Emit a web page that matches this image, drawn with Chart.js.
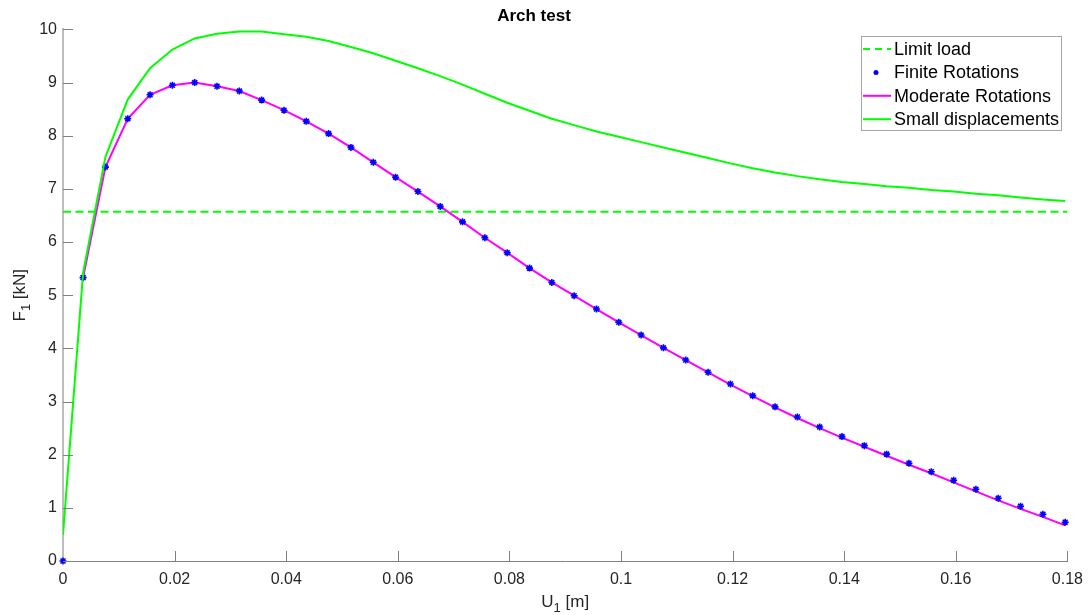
<!DOCTYPE html>
<html>
<head>
<meta charset="utf-8">
<script src="https://cdn.jsdelivr.net/npm/chart.js@4"></script>
<style>
  html, body { margin: 0; padding: 0; background: #fff; }
  #wrap { width: 1092px; height: 615px; }
</style>
</head>
<body>
<div id="wrap"><canvas id="chart" width="1092" height="615"></canvas></div>
<script>
// displacement U1 [m] of each load step
var uValues = [0, 0.0036, 0.0076, 0.0116, 0.0156, 0.0196, 0.0236, 0.0276, 0.0316, 0.0356,
  0.0396, 0.0436, 0.0476, 0.0516, 0.0556, 0.0596, 0.0636, 0.0676, 0.0716, 0.0756,
  0.0796, 0.0836, 0.0876, 0.0916, 0.0956, 0.0996, 0.1036, 0.1076, 0.1116, 0.1156,
  0.1196, 0.1236, 0.1276, 0.1316, 0.1356, 0.1396, 0.1436, 0.1476, 0.1516, 0.1556,
  0.1596, 0.1636, 0.1676, 0.1716, 0.1756, 0.1796];

var finiteRot = [0, 5.33, 7.41, 8.32, 8.77, 8.95, 9.00, 8.93, 8.84, 8.67,
  8.48, 8.27, 8.04, 7.78, 7.50, 7.22, 6.95, 6.67, 6.38, 6.08,
  5.80, 5.51, 5.24, 4.99, 4.74, 4.49, 4.25, 4.01, 3.78, 3.55,
  3.33, 3.11, 2.90, 2.71, 2.52, 2.34, 2.17, 2.01, 1.84, 1.68,
  1.52, 1.35, 1.18, 1.03, 0.88, 0.73];

var moderateRot = [null, 5.33, 7.41, 8.32, 8.77, 8.95, 9.00, 8.93, 8.84, 8.67,
  8.48, 8.27, 8.04, 7.78, 7.50, 7.22, 6.95, 6.67, 6.38, 6.08,
  5.80, 5.51, 5.24, 4.99, 4.74, 4.49, 4.25, 4.01, 3.78, 3.55,
  3.32, 3.10, 2.89, 2.69, 2.50, 2.32, 2.15, 1.98, 1.81, 1.65,
  1.48, 1.31, 1.14, 0.98, 0.83, 0.67];

var smallDisp = [0.49, 5.42, 7.60, 8.68, 9.27, 9.62, 9.83, 9.92, 9.96, 9.96,
  9.91, 9.86, 9.78, 9.67, 9.55, 9.41, 9.27, 9.12, 8.96, 8.79,
  8.62, 8.47, 8.32, 8.20, 8.08, 7.98, 7.88, 7.78, 7.68, 7.58,
  7.48, 7.39, 7.31, 7.24, 7.18, 7.13, 7.09, 7.05, 7.02, 6.98,
  6.95, 6.91, 6.88, 6.84, 6.80, 6.77];

var limitX = [0, 0.18];
var limitLoad = [6.57, 6.57];

var xTicks = [0, 0.02, 0.04, 0.06, 0.08, 0.1, 0.12, 0.14, 0.16, 0.18];
var yTicks = [0, 1, 2, 3, 4, 5, 6, 7, 8, 9, 10];

var FONT = '"Liberation Sans", Arial, Helvetica, sans-serif';
var GREEN = '#00ff00';
var MAGENTA = '#ff00ff';
var BLUE = '#0000ff';

function toPoints(xs, ys) {
  var pts = [];
  for (var i = 0; i < xs.length; i++) {
    if (ys[i] !== null) pts.push({ x: xs[i], y: ys[i] });
  }
  return pts;
}

// inward tick marks, axis titles with subscripts, boxed legend
var matlabLook = {
  id: 'matlabLook',
  afterDraw: function (chart) {
    var ctx = chart.ctx;
    var xs = chart.scales.x, ys = chart.scales.y;
    var area = chart.chartArea;
    ctx.save();

    ctx.strokeStyle = '#808080';
    ctx.lineWidth = 1;
    ctx.beginPath();
    xTicks.forEach(function (v) {
      if (v === 0) return;
      var px = Math.round(xs.getPixelForValue(v)) + 0.5;
      ctx.moveTo(px, area.bottom);
      ctx.lineTo(px, area.bottom - 10);
    });
    yTicks.forEach(function (v) {
      var py = Math.round(ys.getPixelForValue(v)) + 0.5;
      ctx.moveTo(area.left, py);
      ctx.lineTo(area.left + 10, py);
    });
    ctx.stroke();

    // axis titles
    ctx.fillStyle = '#262626';
    ctx.textBaseline = 'alphabetic';
    function subTitle(main, sub, rest, cx, cy) {
      ctx.font = '17px ' + FONT;
      var w1 = ctx.measureText(main).width;
      var w3 = ctx.measureText(rest).width;
      ctx.font = '13px ' + FONT;
      var w2 = ctx.measureText(sub).width;
      var x0 = cx - (w1 + w2 + w3) / 2;
      ctx.textAlign = 'left';
      ctx.font = '17px ' + FONT;
      ctx.fillText(main, x0, cy);
      ctx.font = '13px ' + FONT;
      ctx.fillText(sub, x0 + w1, cy + 5);
      ctx.font = '17px ' + FONT;
      ctx.fillText(rest, x0 + w1 + w2, cy);
    }
    subTitle('U', '1', ' [m]', (area.left + area.right) / 2, 607);
    ctx.save();
    ctx.translate(25, (area.top + area.bottom) / 2);
    ctx.rotate(-Math.PI / 2);
    subTitle('F', '1', ' [kN]', 0, 0);
    ctx.restore();

    // legend
    var bx = 861.5, by = 36.5, bw = 200, bh = 94;
    ctx.fillStyle = '#fff';
    ctx.fillRect(bx, by, bw, bh);
    ctx.strokeStyle = '#a6a6a6';
    ctx.lineWidth = 1;
    ctx.strokeRect(bx, by, bw, bh);
    ctx.font = '18px ' + FONT;
    ctx.textAlign = 'left';
    ctx.textBaseline = 'middle';
    var rows = [
      { text: 'Limit load', kind: 'dash', color: GREEN },
      { text: 'Finite Rotations', kind: 'dot', color: BLUE },
      { text: 'Moderate Rotations', kind: 'line', color: MAGENTA },
      { text: 'Small displacements', kind: 'line', color: GREEN }
    ];
    rows.forEach(function (r, i) {
      var cy = 49 + i * 23.4;
      if (r.kind === 'dot') {
        ctx.fillStyle = r.color;
        ctx.beginPath();
        ctx.arc(876, cy, 2.5, 0, Math.PI * 2);
        ctx.fill();
      } else {
        ctx.strokeStyle = r.color;
        ctx.lineWidth = 2;
        ctx.setLineDash(r.kind === 'dash' ? [7, 5] : []);
        ctx.beginPath();
        ctx.moveTo(863, cy);
        ctx.lineTo(891, cy);
        ctx.stroke();
        ctx.setLineDash([]);
      }
      ctx.fillStyle = '#000';
      ctx.fillText(r.text, 894, cy + 1);
    });
    ctx.restore();
  }
};

new Chart(document.getElementById('chart'), {
  type: 'scatter',
  data: {
    datasets: [
      {
        label: 'Small displacements',
        data: toPoints(uValues, smallDisp),
        showLine: true,
        borderColor: GREEN,
        borderWidth: 2,
        pointRadius: 0,
        tension: 0
      },
      {
        label: 'Finite Rotations',
        data: toPoints(uValues, finiteRot),
        showLine: false,
        pointStyle: 'star',
        pointRadius: 3.5,
        borderColor: BLUE,
        backgroundColor: BLUE,
        pointBorderWidth: 1.6,
        clip: false
      },
      {
        label: 'Moderate Rotations',
        data: toPoints(uValues, moderateRot),
        showLine: true,
        borderColor: MAGENTA,
        borderWidth: 2,
        pointRadius: 0,
        tension: 0
      },
      {
        label: 'Limit load',
        data: toPoints(limitX, limitLoad),
        showLine: true,
        borderColor: GREEN,
        borderWidth: 2,
        borderDash: [8, 4.5],
        pointRadius: 0
      }
    ]
  },
  options: {
    responsive: false,
    animation: false,
    layout: { padding: { left: 0, right: 24, top: 0, bottom: 0 } },
    plugins: {
      legend: { display: false },
      tooltip: { enabled: false },
      title: {
        display: true,
        text: 'Arch test',
        color: '#000',
        font: { family: FONT, size: 17, weight: 'bold', lineHeight: 1.2 },
        padding: { top: 6, bottom: 3 }
      }
    },
    scales: {
      x: {
        type: 'linear',
        min: 0,
        max: 0.18,
        afterFit: function (s) { s.height = 54; },
        afterBuildTicks: function (s) { s.ticks = xTicks.map(function (v) { return { value: v }; }); },
        grid: { display: false, drawTicks: false },
        border: { display: true, color: '#808080', width: 1 },
        ticks: {
          color: '#262626',
          padding: 9,
          maxRotation: 0,
          font: { family: FONT, size: 16 },
          callback: function (v) { return String(+v.toFixed(2)); }
        }
      },
      y: {
        type: 'linear',
        min: 0,
        max: 10,
        afterFit: function (s) { s.width = 63; },
        afterBuildTicks: function (s) { s.ticks = yTicks.map(function (v) { return { value: v }; }); },
        grid: { display: false, drawTicks: false },
        border: { display: true, color: '#bdbdbd', width: 2 },
        ticks: {
          color: '#262626',
          padding: 6,
          font: { family: FONT, size: 16 }
        }
      }
    }
  },
  plugins: [matlabLook]
});
</script>
</body>
</html>
